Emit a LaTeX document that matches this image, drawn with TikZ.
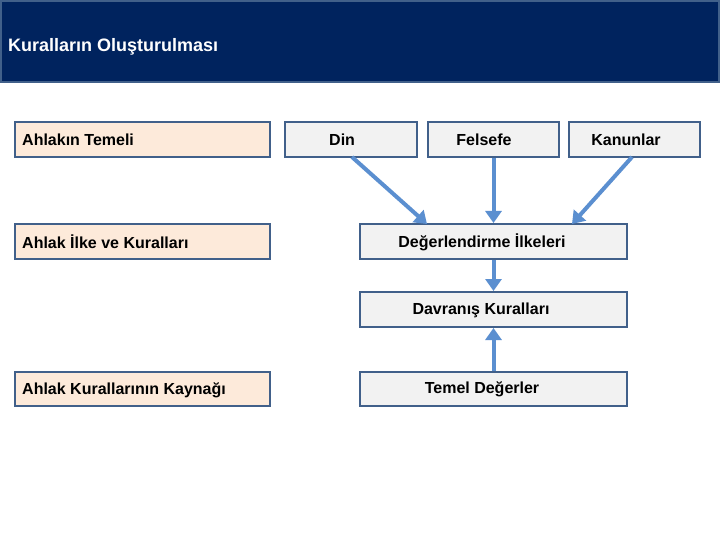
\documentclass[tikz,border=0pt]{standalone}
\usepackage{fontspec}
\setmainfont{Liberation Sans}
\usetikzlibrary{arrows.meta}
\definecolor{navy}{HTML}{00235E}
\definecolor{bord}{HTML}{41608A}
\definecolor{peach}{HTML}{FDEADA}
\definecolor{lgray}{HTML}{F2F2F2}
\definecolor{arr}{HTML}{5B8FD0}
\tikzset{
 box/.style={draw=bord,line width=2pt,inner sep=0pt},
 lbox/.style={box,fill=peach},
 gbox/.style={box,fill=lgray},
 txt/.style={font=\bfseries\fontsize{16}{18}\selectfont,inner sep=0pt},
 conn/.style={draw=arr,line width=4pt,-{Triangle[length=12pt,width=16pt]}}
}
\begin{document}
\begin{tikzpicture}[x=1pt,y=-1pt]
\useasboundingbox (0,0) rectangle (720,540);
\fill[white] (0,0) rectangle (720,540);
\draw[fill=navy,draw=bord,line width=2pt] (1,1) rectangle (719,82);
\node[anchor=west,text=white,txt,font=\bfseries\fontsize{18}{20}\selectfont] (title) at (8,47) {Kuralların Oluşturulması};
\draw[lbox] (15,122) rectangle (270,157);
\node[txt,anchor=west] (l1) at (22,140) {Ahlakın Temeli};
\draw[lbox] (15,224) rectangle (270,259);
\node[txt,anchor=west] (l2) at (22,242) {Ahlak İlke ve Kuralları};
\draw[lbox] (15,372) rectangle (270,406);
\node[txt,anchor=west] (l3) at (22,390) {Ahlak Kurallarının Kaynağı};
\node[gbox,minimum width=132pt,minimum height=35pt] (din) at (351,139.5) {};
\node[txt,anchor=west] at (329,140) {Din};
\node[gbox,minimum width=131pt,minimum height=35pt] (fel) at (493.5,139.5) {};
\node[txt] at (484,140) {Felsefe};
\node[gbox,minimum width=131pt,minimum height=35pt] (kan) at (634.5,139.5) {};
\node[txt] at (626,140) {Kanunlar};
\node[gbox,minimum width=267pt,minimum height=35pt] (deg) at (493.5,241.5) {};
\node[txt] at (482,242) {Değerlendirme İlkeleri};
\node[gbox,minimum width=267pt,minimum height=35pt] (dav) at (493.5,309.5) {};
\node[txt] at (481,310) {Davranış Kuralları};
\node[gbox,minimum width=267pt,minimum height=34pt] (tem) at (493.5,389) {};
\node[txt] at (482,389) {Temel Değerler};
\coordinate (dinS) at (352,157); \coordinate (degA) at (427,224);
\coordinate (kanS) at (632,157); \coordinate (degC) at (572,224);
\draw[conn] (dinS) -- (degA);
\draw[conn] (fel.south) -- (fel.south |- deg.north);
\draw[conn] (kanS) -- (degC);
\draw[conn] (deg.south) -- (dav.north);
\draw[conn] (tem.north) -- (dav.south);
\end{tikzpicture}
\end{document}
